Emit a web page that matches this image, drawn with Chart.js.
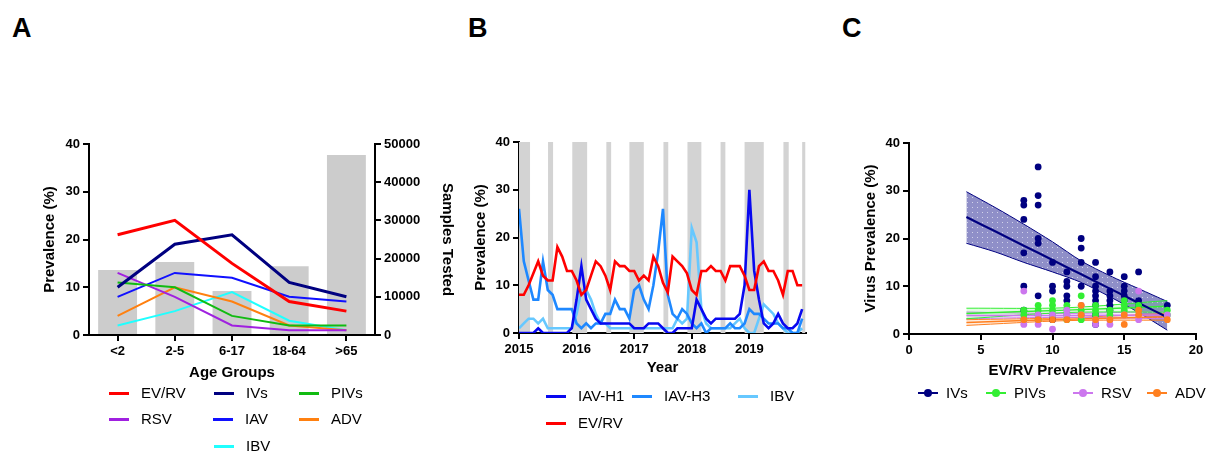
<!DOCTYPE html>
<html><head><meta charset="utf-8">
<script src="https://cdn.jsdelivr.net/npm/chart.js@4.4.0/dist/chart.umd.min.js"></script>
<style>
body{margin:0;background:#fff;width:1211px;height:453px;overflow:hidden;position:relative;font-family:'Liberation Sans',Arial,sans-serif;color:#000;}
canvas{position:absolute;top:0;}
.panel{position:absolute;top:12px;font-weight:bold;font-size:27px;line-height:32px;}
.lg{position:absolute;font-size:15px;white-space:nowrap;height:18px;}
.lg .t{position:absolute;top:0;line-height:18px;}
.lg .l{position:absolute;left:0;width:20px;}
.lg .d{position:absolute;left:6px;top:5px;width:8px;height:8px;border-radius:50%;}
</style>
</head><body>
<div class="panel" style="left:12px">A</div>
<div class="panel" style="left:468px">B</div>
<div class="panel" style="left:842px">C</div>
<canvas id="cA" width="460" height="453" style="left:0"></canvas>
<canvas id="cB" width="360" height="453" style="left:460px"></canvas>
<canvas id="cC" width="391" height="453" style="left:820px"></canvas>
<script>
// ---------- Panel A data ----------
const ageGroups = ['<2', '2-5', '6-17', '18-64', '>65'];
const samplesTested = [17000, 19100, 11500, 18000, 47100];
const evrvA = [21, 24, 15, 7, 5];
const ivsA  = [10, 19, 21, 11, 8];
const pivsA = [11, 10, 4, 2, 2];
const rsvA  = [13, 8, 2, 1, 1];
const iavA  = [8, 13, 12, 8, 7];
const advA  = [4, 10, 7, 2, 1];
const ibvA  = [2, 5, 9, 3, 1];

// ---------- Panel B data (monthly, Jan 2015 = 0) ----------
const yearTicks = [2015, 2016, 2017, 2018, 2019];
const h1B  = [0,0,0,0,1,0,0,0,0,0, 0,1,7,14,7,5,3,2,2,2, 2,2,2,2,1,1,1,2,2,2, 1,0,0,1,1,1,1,7,5,3, 2,3,3,3,3,3,4,10,30,13, 7,2,1,2,4,2,1,1,2,5];
const h3B  = [26,15,11,7,7,15,9,8,5,5, 5,5,2,1,2,1,2,2,4,4, 7,5,5,3,9,10,7,5,10,17, 26,8,4,3,5,4,2,1,2,0, 1,1,1,1,2,1,1,2,5,4, 4,3,2,2,2,1,1,0,0,3];
const ibvB = [1,2,3,3,2,3,1,1,1,1, 1,1,4,9,9,7,4,2,2,1, 1,1,1,1,1,1,1,1,1,1, 1,1,1,3,2,3,22,19,5,2, 1,1,1,1,1,2,3,1,0,0, 3,6,5,4,2,1,0,0,0,1];
const evrvB = [8,8,10,12.5,15,12,11,11,18,16, 13,13,11,8,9,12,15,14,12,9, 15,14,14,13,13,11,12,11,16,14, 10.5,8.5,16,15,14,12.5,9,8,13,13, 14,13,13,11,14,14,14,12,9,9, 14,15,13,13,11,8,13,13,10,10];
const seasonBands = [[0,2.3],[6.05,7.1],[11.1,14.2],[18.2,19.2],[23,26],[30.1,31.1],[35.1,38],[42,43],[47,51],[55.1,56.2],[59,59.7]];

// ---------- Panel C data ----------
const ivsCx  = [8,8,8,8,8,8, 9,9,9,9,9,9, 10,10,10,10, 11,11,11,11,11, 12,12,12,12, 13,13,13,13,13,13,13,13,13, 14,14,14,14,14,14, 15,15,15,15,15, 16,16,16, 18];
const ivsCy  = [28,27,24,17,10,5, 35,29,27,20,19,8, 15,10,9,3, 13,11,10,8,7, 20,18,15,10, 15,12,10,9,8,7,6,4,2, 13,9,8,7,6,5, 12,10,9,8,7, 13,7,6, 6];
const pivsCx = [8,8,8, 9,9,9,9, 10,10,10,10, 11,11,11,11, 12,12,12,12, 13,13,13, 14,14, 15,15,15, 16,16, 18,18];
const pivsCy = [3,4,5, 3,4,5,6, 4,5,6,7, 3,4,5,6, 3,4,5,8, 4,5,6, 4,5, 5,6,7, 5,6, 4,5];
const rsvCx  = [8,8, 9,9, 10,10, 11,11, 12,12, 13,13, 14,14, 15, 16,16, 18];
const rsvCy  = [9,2, 2,4, 1,4, 4,5, 4,6, 2,3, 2,3, 4, 9,3, 4];
const advCx  = [8, 9, 10, 11, 12,12, 13, 14, 15,15, 16,16, 18];
const advCy  = [3, 3, 3, 3, 6,4, 3, 3, 2,4, 5,4, 3];
const ivsFitX   = [4, 6, 8, 10, 12, 14, 16, 18];
const ivsFit    = [24.5, 21.5, 18.5, 15.5, 12.5, 9.5, 6.5, 3.5];
const ivsUpper  = [29.8, 26.5, 23, 19.3, 15.3, 12.2, 9.5, 6.8];
const ivsLower  = [19, 17.2, 15, 13, 10.8, 7.8, 4.5, 0.8];
const smallFitX = [4, 11, 18];
const pivsFit = [4.3, 5.0, 5.8], pivsUp = [5.4, 5.5, 7.0], pivsLo = [3.2, 4.5, 4.6];
const rsvFit  = [3.9, 3.9, 4.0], rsvUp  = [4.6, 4.3, 4.8], rsvLo  = [3.2, 3.5, 3.2];
const advFit  = [2.4, 3.1, 3.6], advUp  = [3.0, 3.4, 4.3], advLo  = [1.8, 2.8, 2.9];

// ---------- common styling ----------
const FAM = "'Liberation Sans', Arial, sans-serif";
Chart.defaults.font.family = FAM;
Chart.defaults.color = '#000';
const tickFont = {family: FAM, size: 13, weight: 'bold'};
const titleFont = {family: FAM, size: 15, weight: 'bold'};
const gridOpt = {drawOnChartArea: false, drawTicks: true, color: '#000', lineWidth: 2, tickLength: 6};
const borderOpt = {display: true, color: '#000', width: 2};
const plainNum = v => String(v);
const baseOpts = {responsive: false, animation: false, devicePixelRatio: 1, events: [],
  plugins: {legend: {display: false}, tooltip: {enabled: false}}};

// ---------- Chart A ----------
const seriesA = [
  {name: 'EV/RV', values: evrvA, color: '#ff0000', w: 3},
  {name: 'IVs',   values: ivsA,  color: '#000080', w: 3},
  {name: 'PIVs',  values: pivsA, color: '#11bb11', w: 2},
  {name: 'RSV',   values: rsvA,  color: '#a020e0', w: 2},
  {name: 'IAV',   values: iavA,  color: '#1010ff', w: 2},
  {name: 'ADV',   values: advA,  color: '#ff8010', w: 2},
  {name: 'IBV',   values: ibvA,  color: '#20ffff', w: 2}
];
new Chart(document.getElementById('cA'), {
  type: 'bar',
  data: {
    labels: ageGroups,
    datasets: [
      ...seriesA.map((s, i) => ({type: 'line', label: s.name, data: s.values, borderColor: s.color,
        borderWidth: s.w, pointRadius: 0, yAxisID: 'y', order: i < 2 ? 0 : 1, tension: 0, fill: false})),
      {type: 'bar', label: 'Samples Tested', data: samplesTested, backgroundColor: '#cccccc',
        yAxisID: 'y2', order: 20, barPercentage: 0.68, categoryPercentage: 1}
    ]
  },
  options: {...baseOpts,
    layout: {padding: {left: 0, right: 0, top: 144, bottom: 68}},
    scales: {
      x: {type: 'category', offset: true, grid: {...gridOpt, offset: false}, border: borderOpt,
        ticks: {font: tickFont, padding: 3, maxRotation: 0, autoSkip: false},
        title: {display: true, text: 'Age Groups', font: titleFont, padding: {top: 0, bottom: 3}},
        afterFit: s => { s.height = 50; }},
      y: {position: 'left', min: 0, max: 40, grid: gridOpt, border: borderOpt,
        ticks: {stepSize: 10, font: tickFont, padding: 3, callback: plainNum},
        title: {display: true, text: 'Prevalence (%)', font: titleFont, padding: {top: 41, bottom: 0}},
        afterFit: s => { s.width = 89; }},
      y2: {position: 'right', min: 0, max: 50000, grid: gridOpt, border: borderOpt,
        ticks: {stepSize: 10000, font: tickFont, padding: 3, callback: plainNum},
        title: {display: true, text: 'Samples Tested', font: titleFont, padding: {top: 4, bottom: 0}},
        afterFit: s => { s.width = 85; }}
    }
  }
});

// ---------- Chart B ----------
const bandPts = [];
seasonBands.forEach(([a, b]) => { bandPts.push({x: a, y: 0}, {x: a, y: 40}, {x: b, y: 40}, {x: b, y: 0}); });
const toXY = arr => arr.map((v, i) => ({x: i, y: v}));
const seriesB = [
  {name: 'IAV-H1', values: h1B, color: '#0808f0'},
  {name: 'IAV-H3', values: h3B, color: '#1e88ff'},
  {name: 'IBV', values: ibvB, color: '#66c8ff'},
  {name: 'EV/RV', values: evrvB, color: '#ff0000'}
];
new Chart(document.getElementById('cB'), {
  type: 'line',
  data: {datasets: [
    ...seriesB.map((s, i) => ({label: s.name, data: toXY(s.values), borderColor: s.color, borderWidth: 2.6,
      pointRadius: 0, tension: 0, fill: false, order: [1, 2, 3, 0][i]})),
    {label: 'season', data: bandPts, borderColor: 'transparent', borderWidth: 0, pointRadius: 0,
      backgroundColor: '#d3d3d3', fill: 'origin', order: 20, tension: 0}
  ]},
  options: {...baseOpts,
    layout: {padding: {left: 0, right: 14, top: 142, bottom: 70}},
    scales: {
      x: {type: 'linear', min: 0, max: 59.8, grid: gridOpt, border: borderOpt,
        afterBuildTicks: s => { s.ticks = yearTicks.map(y => ({value: (y - yearTicks[0]) * 12})); },
        ticks: {font: tickFont, padding: 3, maxRotation: 0, autoSkip: false,
          callback: v => String(yearTicks[0] + Math.round(v / 12))},
        title: {display: true, text: 'Year', font: titleFont, padding: {top: 0, bottom: 6}},
        afterFit: s => { s.height = 50; }},
      y: {min: 0, max: 40, grid: gridOpt, border: borderOpt,
        ticks: {stepSize: 10, font: tickFont, padding: 3, callback: plainNum},
        title: {display: true, text: 'Prevalence (%)', font: titleFont, padding: {top: 12, bottom: 0}},
        afterFit: s => { s.width = 59; }}
    }
  }
});

// ---------- Chart C ----------
const pc = document.createElement('canvas'); pc.width = 5; pc.height = 5;
const pctx = pc.getContext('2d');
pctx.fillStyle = 'rgba(40,40,150,0.52)'; pctx.fillRect(0, 0, 5, 5);
pctx.fillStyle = 'rgba(255,255,255,0.6)'; pctx.fillRect(2, 2, 1, 1);
const bandPattern = document.getElementById('cC').getContext('2d').createPattern(pc, 'repeat');

const pairs = (xs, ys) => xs.map((x, i) => ({x: x, y: ys[i]}));
const colC = {ivs: '#000080', pivs: '#33ee33', rsv: '#cc77ee', adv: '#ff8020'};
const fitLine = (xs, ys, color, w, order) => ({data: pairs(xs, ys), borderColor: color, borderWidth: w,
  pointRadius: 0, tension: 0.3, fill: false, order: order});
const bandLo = (xs, ys, color, bg, order) => ({data: pairs(xs, ys), borderColor: color, borderWidth: 1,
  pointRadius: 0, tension: 0.3, fill: '-1', backgroundColor: bg, order: order});
const pointsDs = (xs, ys, color, label) => ({label: label, data: pairs(xs, ys), showLine: false,
  pointRadius: 3.4, pointBackgroundColor: color, pointBorderColor: color, pointBorderWidth: 0, order: 0});

new Chart(document.getElementById('cC'), {
  type: 'line',
  data: {datasets: [
    fitLine(ivsFitX, ivsUpper, colC.ivs, 1, 9),
    bandLo(ivsFitX, ivsLower, colC.ivs, bandPattern, 9),
    fitLine(ivsFitX, ivsFit, colC.ivs, 2.2, 5),
    fitLine(smallFitX, pivsUp, colC.pivs, 1, 6),
    bandLo(smallFitX, pivsLo, colC.pivs, 'rgba(51,238,51,0.15)', 6),
    fitLine(smallFitX, pivsFit, colC.pivs, 1.5, 5),
    fitLine(smallFitX, rsvUp, colC.rsv, 1, 6),
    bandLo(smallFitX, rsvLo, colC.rsv, 'rgba(204,119,238,0.15)', 6),
    fitLine(smallFitX, rsvFit, colC.rsv, 1.5, 5),
    fitLine(smallFitX, advUp, colC.adv, 1, 6),
    bandLo(smallFitX, advLo, colC.adv, 'rgba(255,128,32,0.15)', 6),
    fitLine(smallFitX, advFit, colC.adv, 1.5, 5),
    pointsDs(advCx, advCy, colC.adv, 'ADV'),
    pointsDs(rsvCx, rsvCy, colC.rsv, 'RSV'),
    pointsDs(pivsCx, pivsCy, colC.pivs, 'PIVs'),
    pointsDs(ivsCx, ivsCy, colC.ivs, 'IVs')
  ]},
  options: {...baseOpts,
    layout: {padding: {left: 0, right: 15, top: 143, bottom: 69}},
    scales: {
      x: {type: 'linear', min: 0, max: 20, grid: gridOpt, border: borderOpt,
        ticks: {stepSize: 5, font: tickFont, padding: 3, maxRotation: 0, callback: plainNum},
        title: {display: true, text: 'EV/RV Prevalence', font: titleFont, padding: {top: 0, bottom: 4}},
        afterFit: s => { s.height = 50; }},
      y: {min: 0, max: 40, grid: gridOpt, border: borderOpt,
        ticks: {stepSize: 10, font: tickFont, padding: 3, callback: plainNum},
        title: {display: true, text: 'Virus Prevalence (%)', font: titleFont, padding: {top: 42, bottom: 0}},
        afterFit: s => { s.width = 89; }}
    }
  }
});

// ---------- HTML legends ----------
function addLegend(x, y, color, text, textOffset, withDot) {
  const d = document.createElement('div');
  d.className = 'lg';
  d.style.left = x + 'px'; d.style.top = (y - 9) + 'px';
  const ln = document.createElement('span'); ln.className = 'l';
  ln.style.background = color;
  ln.style.height = withDot ? '2px' : '3px';
  ln.style.top = withDot ? '8px' : '7.5px';
  d.appendChild(ln);
  if (withDot) { const dt = document.createElement('span'); dt.className = 'd'; dt.style.background = color; d.appendChild(dt); }
  const t = document.createElement('span'); t.className = 't'; t.style.left = textOffset + 'px'; t.textContent = text;
  d.appendChild(t);
  document.body.appendChild(d);
}
const legA = [[109, 393], [214, 393], [299, 393], [109, 419], [213, 419], [299, 419], [214, 446]];
seriesA.forEach((s, i) => addLegend(legA[i][0], legA[i][1], s.color, s.name, 32, false));
const legB = [[546, 396], [632, 396], [738, 396], [546, 423]];
seriesB.forEach((s, i) => addLegend(legB[i][0], legB[i][1], s.color, s.name, 32, false));
const legC = [['IVs', colC.ivs, 918], ['PIVs', colC.pivs, 986], ['RSV', colC.rsv, 1073], ['ADV', colC.adv, 1147]];
legC.forEach(([n, c, x]) => addLegend(x, 393, c, n, 28, true));
</script>
</body></html>
